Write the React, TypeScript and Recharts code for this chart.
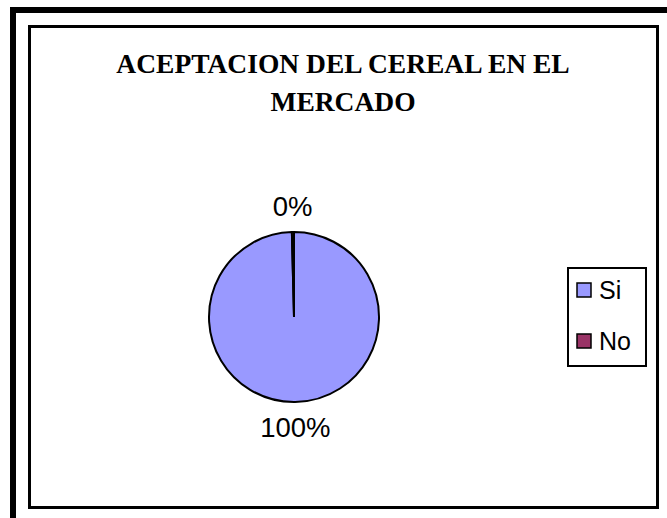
import React from "react";
import { PieChart, Pie, Cell, Legend } from "recharts";

const categories = ["Si", "No"];
const values = [99.6, 0.4];
const colors = ["#9999FF", "#993366"];
const titleLines = ["ACEPTACION DEL CEREAL EN EL", "MERCADO"];

const data = categories.map((name, i) => ({ name, value: values[i] }));

const RAD = Math.PI / 180;

const renderLabel = (props: any) => {
  const { cx, cy, midAngle, outerRadius, percent } = props;
  const r = outerRadius + 26;
  const x = cx + r * Math.cos(-midAngle * RAD);
  const y = cy + r * Math.sin(-midAngle * RAD);
  return (
    <text
      x={x}
      y={y}
      textAnchor="middle"
      dominantBaseline="central"
      fontFamily="'Liberation Sans', Arial, sans-serif"
      fontSize={27.5}
      fill="#000"
    >
      {`${Math.round(percent * 100)}%`}
    </text>
  );
};

const renderLegend = (props: any) => {
  const payload = [...(props.payload || [])].sort(
    (a: any, b: any) => categories.indexOf(a.value) - categories.indexOf(b.value)
  );
  return (
    <svg width={80} height={100} style={{ display: "block" }}>
      <rect x={1} y={1} width={78} height={98} fill="#fff" stroke="#000" strokeWidth={2} />
      {payload.map((entry: any, i: number) => {
        const cy = 23 + i * 51;
        return (
          <g key={i}>
            <rect
              x={10}
              y={cy - 7}
              width={14}
              height={14}
              fill={entry.color}
              stroke="#000"
              strokeWidth={1.5}
            />
            <text
              x={32}
              y={cy + 8.5}
              fontFamily="'Liberation Sans', Arial, sans-serif"
              fontSize={25}
              fill="#000"
            >
              {entry.value}
            </text>
          </g>
        );
      })}
    </svg>
  );
};

export default function App() {
  return (
    <div style={{ position: "relative", width: 667, height: 518, overflow: "hidden", background: "#fff" }}>
      <style>{`body{margin:0;}`}</style>
      <div
        style={{
          position: "absolute",
          left: 10,
          top: 7,
          width: 700,
          height: 600,
          border: "6px solid #000",
          boxSizing: "border-box",
        }}
      />
      <div
        style={{
          position: "absolute",
          left: 28,
          top: 25,
          width: 631,
          height: 484,
          border: "3px solid #000",
          boxSizing: "border-box",
          background: "#fff",
        }}
      />
      <div style={{ position: "absolute", left: 0, top: 0 }}>
        <PieChart width={667} height={518} margin={{ top: 0, right: 0, bottom: 0, left: 0 }}>
          <Pie
            data={data}
            dataKey="value"
            nameKey="name"
            cx={294}
            cy={317}
            outerRadius={85}
            startAngle={90}
            endAngle={-270}
            stroke="#000"
            strokeWidth={2}
            label={renderLabel}
            labelLine={false}
            isAnimationActive={false}
          >
            {data.map((d, i) => (
              <Cell key={d.name} fill={colors[i]} />
            ))}
          </Pie>
          <Legend
            layout="vertical"
            align="right"
            verticalAlign="middle"
            content={renderLegend}
            wrapperStyle={{ position: "absolute", left: 567, top: 267, width: 80, height: 100 }}
          />
        </PieChart>
      </div>
      <svg
        width={667}
        height={130}
        style={{ position: "absolute", left: 0, top: 0, pointerEvents: "none" }}
      >
        {titleLines.map((t, i) => (
          <text
            key={i}
            x={343}
            y={73 + i * 38}
            textAnchor="middle"
            fontFamily="'Liberation Serif', 'Times New Roman', serif"
            fontWeight="bold"
            fontSize={27.5}
            fill="#000"
          >
            {t}
          </text>
        ))}
      </svg>
    </div>
  );
}
